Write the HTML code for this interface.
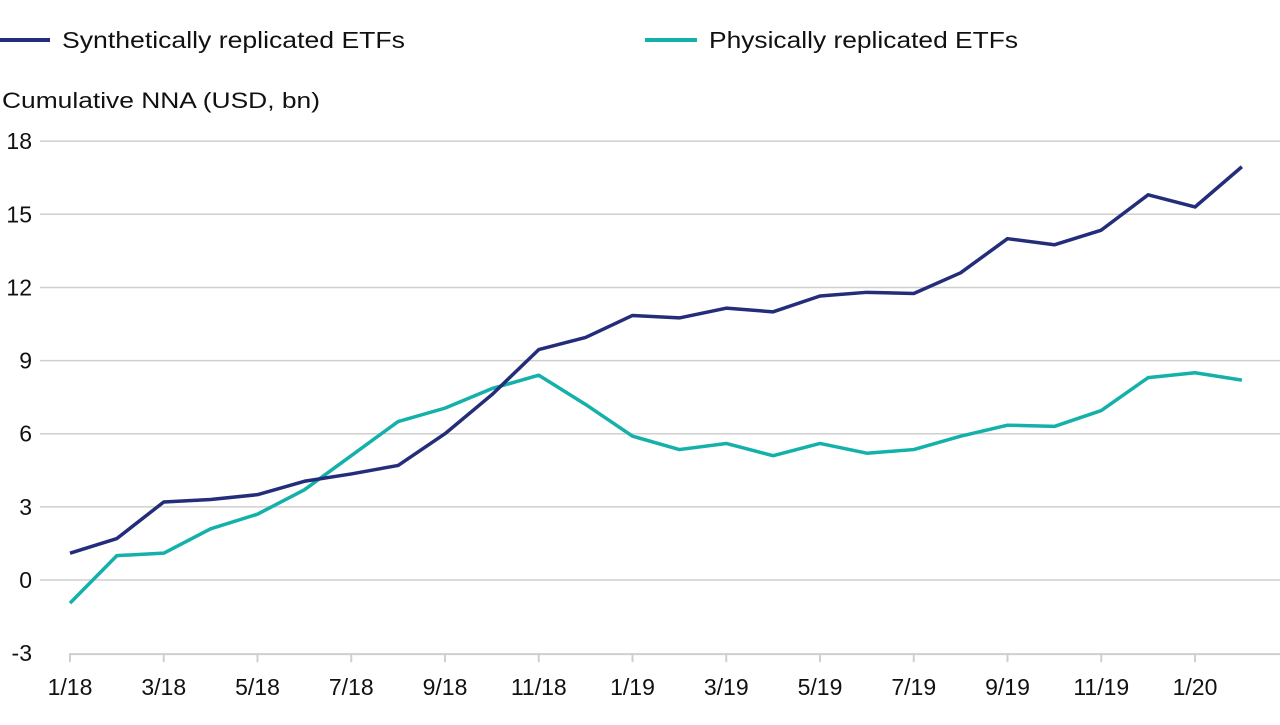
<!DOCTYPE html>
<html><head><meta charset="utf-8"><style>
html,body{margin:0;padding:0;background:#fff;}
svg text{font-family:"Liberation Sans","DejaVu Sans",sans-serif;fill:#111;}
</style></head><body>
<svg width="1280" height="720" viewBox="0 0 1280 720">
<g>
<line x1="0" y1="40" x2="50" y2="40" stroke="#232d7a" stroke-width="4"/>
<text x="62" y="48" font-size="23" textLength="343" lengthAdjust="spacingAndGlyphs">Synthetically replicated ETFs</text>
<line x1="645" y1="40" x2="697" y2="40" stroke="#14b0aa" stroke-width="4"/>
<text x="709" y="48" font-size="23" textLength="309" lengthAdjust="spacingAndGlyphs">Physically replicated ETFs</text>
</g>
<text x="2" y="108" font-size="22" textLength="318" lengthAdjust="spacingAndGlyphs">Cumulative NNA (USD, bn)</text>
<g id="grid"></g>
<g id="yt"></g>
<g id="xa"></g>
<g id="series"></g>
</svg>
<script>
const categories=["1/18","2/18","3/18","4/18","5/18","6/18","7/18","8/18","9/18","10/18","11/18","12/18","1/19","2/19","3/19","4/19","5/19","6/19","7/19","8/19","9/19","10/19","11/19","12/19","1/20","2/20"];
const synthetic=[1.1,1.7,3.2,3.3,3.5,4.05,4.35,4.7,6.0,7.6,9.45,9.95,10.85,10.75,11.15,11.0,11.65,11.8,11.75,12.6,14.0,13.75,14.35,15.8,15.3,16.95];
const physical=[-0.95,1.0,1.1,2.1,2.7,3.7,5.1,6.5,7.05,7.85,8.4,7.2,5.9,5.35,5.6,5.1,5.6,5.2,5.35,5.9,6.35,6.3,6.95,8.3,8.5,8.2];
const yTicks=[-3,0,3,6,9,12,15,18];
const NS="http://www.w3.org/2000/svg";
const y=v=>580-(v)*24.38;
const x=i=>70+i*46.875;
function mk(t,a,p){const e=document.createElementNS(NS,t);for(const k in a)e.setAttribute(k,a[k]);p.appendChild(e);return e;}
const grid=document.getElementById('grid'),yt=document.getElementById('yt'),xa=document.getElementById('xa'),se=document.getElementById('series');
yTicks.forEach(v=>{
 if(v>yTicks[0]){const l=mk('line',{x1:40,x2:1280,y1:y(v),y2:y(v),stroke:'#cfcfcf','stroke-width':1.5},grid);
 
 }
 const t=mk('text',{x:32,y:y(v)+8,'font-size':23,'text-anchor':'end'},yt);t.textContent=v;
 
 
});
const ax=mk('line',{x1:70,x2:1280,y1:y(-3)+1,y2:y(-3)+1,stroke:'#cfcfcf','stroke-width':2},xa);


categories.forEach((c,i)=>{
 if(i%2)return;
 const tk=mk('line',{x1:x(i),x2:x(i),y1:y(-3),y2:y(-3)+9,stroke:'#cfcfcf','stroke-width':2},xa);
 
 
 const t=mk('text',{x:x(i),y:695,'font-size':23,'text-anchor':'middle'},xa);t.textContent=c;
 
 
});
function line(d,col,name){
 const p=mk('polyline',{points:d.map((v,i)=>x(i)+','+y(v)).join(' '),fill:'none',stroke:col,'stroke-width':3.5,'stroke-linejoin':'round'},se);
 
 
}
line(physical,'#14b0aa','physical-line');
line(synthetic,'#232d7a','synthetic-line');
</script>
</body></html>
